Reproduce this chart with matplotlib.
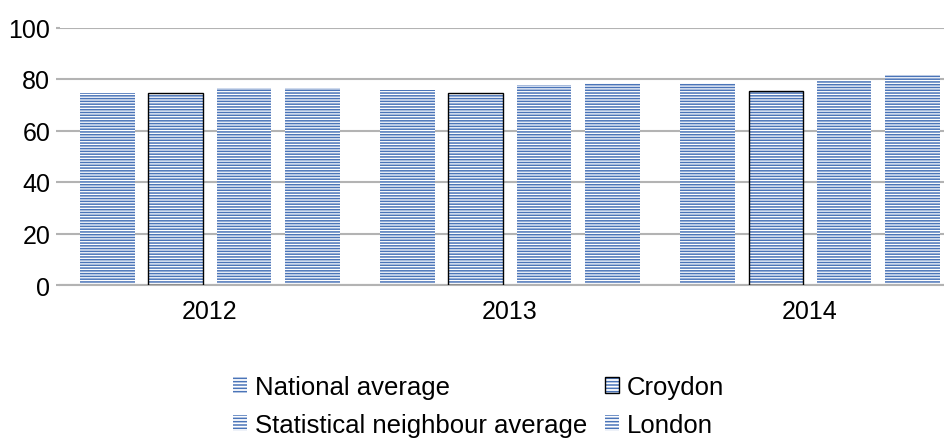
import matplotlib.pyplot as plt
from matplotlib.patches import Patch
import numpy as np

plt.rcParams['font.family'] = ['Liberation Sans', 'DejaVu Sans']
plt.rcParams['hatch.color'] = '#4a74b8'
plt.rcParams['hatch.linewidth'] = 1.1

years = ['2012', '2013', '2014']
series = ['National average', 'Croydon', 'Statistical neighbour average', 'London']
national = [74.6, 75.7, 78.4]
croydon = [74.4, 74.4, 75.2]
stat_neighbour = [76.5, 77.7, 79.7]
london = [76.5, 78.4, 81.6]

fig = plt.figure(figsize=(9.45, 4.39), dpi=100)
# the plot area runs past the right edge of the picture, as in the original
ax = fig.add_axes([60 / 945, 1 - 286 / 439, 900 / 945, (286 - 28.5) / 439])

x = np.arange(len(years))
width = 0.183
step = 0.227
values = [national, croydon, stat_neighbour, london]
for i, vals in enumerate(values):
    pos = x + (i - 1.5) * step
    ax.bar(pos, vals, width, facecolor='white', edgecolor=None, linewidth=0,
           hatch='------', zorder=2)
    if series[i] == 'Croydon':
        ax.bar(pos, vals, width, fill=False, edgecolor='black', linewidth=1.0, zorder=3)

ax.set_xlim(-0.5, 2.5)
ax.set_ylim(0, 100)
ax.set_yticks(range(0, 101, 20))
ax.set_xticks(x)
ax.set_xticklabels(years)
ax.yaxis.grid(True, color='#b3b3b3', linewidth=1.5, zorder=0)
ax.set_axisbelow(True)
for s in ['top', 'right', 'left']:
    ax.spines[s].set_visible(False)
ax.spines['bottom'].set_color('#b3b3b3')
ax.spines['bottom'].set_linewidth(1.5)
ax.tick_params(axis='y', length=3, color='#b3b3b3', width=1.5, labelsize=18, pad=4)
ax.tick_params(axis='x', length=0, labelsize=18, pad=10)


def hatched():
    return Patch(facecolor='white', edgecolor=None, linewidth=0, hatch='-----')


croydon_handle = (hatched(), Patch(fill=False, edgecolor='black', linewidth=1.0))
# legend fills column-wise, so order for rows: National | Croydon, Statistical | London
handles = [hatched(), hatched(), croydon_handle, hatched()]
labels = [series[0], series[2], series[1], series[3]]
fig.legend(handles=handles, labels=labels, ncol=2, loc='center',
           bbox_to_anchor=(0.5 + 6 / 945, 1 - 407 / 439), frameon=False, fontsize=18.5,
           handlelength=0.55, handleheight=0.55, handletextpad=0.3,
           columnspacing=0.7, labelspacing=0.55)

fig.savefig('out.png', dpi=100)
